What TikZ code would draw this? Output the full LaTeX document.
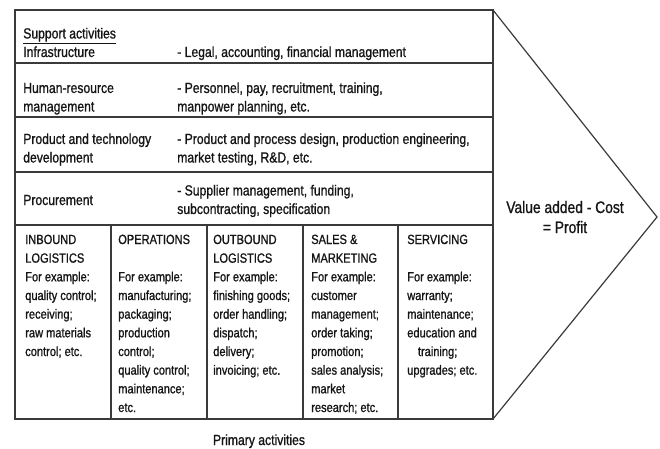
\documentclass[tikz,border=0pt]{standalone}
\usepackage{fontspec}
\setmainfont{Liberation Sans}[FakeStretch=0.83, FakeBold=1]
\definecolor{framegray}{HTML}{3A3A3A}
\definecolor{textblack}{HTML}{151515}

\begin{document}
\begin{tikzpicture}[x=0.75pt, y=-0.75pt,
    support/.style={anchor=base west, align=left, inner sep=0pt, text=textblack,
      font=\fontsize{11}{13.9}\selectfont},
    primary/.style={anchor=base west, align=left, inner sep=0pt, text=textblack,
      font=\fontsize{10}{14}\selectfont}]
  \useasboundingbox (0,0) rectangle (660,449);

  % frame and arrow head
  \draw[framegray, line width=0.9pt] (15,10) rectangle (493,419);
  \draw[framegray, line width=0.9pt] (493,10) -- (657,217) -- (493,419);

  % rows of the support activities
  \draw[framegray, line width=0.9pt] (15,63) -- (493,63);
  \draw[framegray, line width=0.9pt] (15,117) -- (493,117);
  \draw[framegray, line width=0.9pt] (15,172) -- (493,172);
  \draw[framegray, line width=0.9pt] (15,225) -- (493,225);

  % columns of the primary activities
  \draw[framegray, line width=0.9pt] (111,225) -- (111,419);
  \draw[framegray, line width=0.9pt] (207,225) -- (207,419);
  \draw[framegray, line width=0.9pt] (303,225) -- (303,419);
  \draw[framegray, line width=0.9pt] (398,225) -- (398,419);

  % base anchor = baseline of the last line
  \node[support] (infra) at (23,57) {\underline{Support activities}\\Infrastructure};
  \node[support] (infradesc) at (177,57) {- Legal, accounting, financial management};

  \node[support] (hrm) at (23,111.5) {Human-resource\\management};
  \node[support] (hrmdesc) at (177,111.5) {- Personnel, pay, recruitment, training,\\manpower planning, etc.};

  \node[support] (tech) at (23,162.5) {Product and technology\\development};
  \node[support] (techdesc) at (177,162.5) {- Product and process design, production engineering,\\market testing, R\&D, etc.};

  \node[support] (proc) at (23,205) {Procurement};
  \node[support] (procdesc) at (177,214) {- Supplier management, funding,\\subcontracting, specification};

  \node[primary] (inbound) at (25,356) {INBOUND\\LOGISTICS\\For example:\\quality control;\\receiving;\\raw materials\\control; etc.};
  \node[primary] (operations) at (118,412) {OPERATIONS\\[14pt]For example:\\manufacturing;\\packaging;\\production\\control;\\quality control;\\maintenance;\\etc.};
  \node[primary] (outbound) at (213,374.7) {OUTBOUND\\LOGISTICS\\For example:\\finishing goods;\\order handling;\\dispatch;\\delivery;\\invoicing; etc.};
  \node[primary] (sales) at (311,412) {SALES \&\\MARKETING\\For example:\\customer\\management;\\order taking;\\promotion;\\sales analysis;\\market\\research; etc.};
  \node[primary] (servicing) at (407,374.7) {SERVICING\\[14pt]For example:\\warranty;\\maintenance;\\education and\\\hspace*{0.8em}training;\\upgrades; etc.};

  \node[anchor=base, align=center, inner sep=0pt, text=textblack,
    font=\fontsize{12.5}{15}\selectfont] (value) at (565,233) {Value added - Cost\\= Profit};
  \node[anchor=base, inner sep=0pt, text=textblack,
    font=\fontsize{11}{13}\selectfont] (primarylabel) at (259,445) {Primary activities};
\end{tikzpicture}
\end{document}
